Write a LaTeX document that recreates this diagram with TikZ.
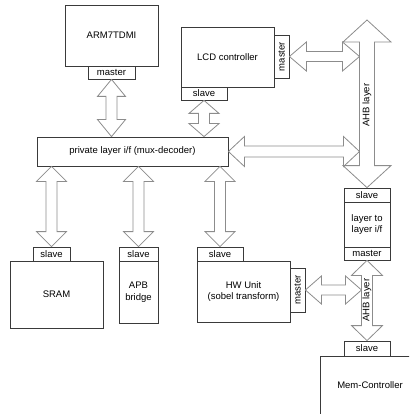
\documentclass[tikz,border=0pt]{standalone}
\usepackage{fontspec}
\setmainfont{Liberation Sans}
\usetikzlibrary{calc}
\definecolor{boxline}{HTML}{3A3A3A}
\definecolor{arrline}{HTML}{8C8C8C}

% Block arrow with a head at both ends.
% #1 = first tip, #2 = second tip, #3 = head half width,
% #4 = shaft half width, #5 = head length
\newcommand{\dblarrow}[5]{%
  \coordinate (da1) at (#1);
  \coordinate (da2) at (#2);
  \draw[fatarrow]
    (da1)
    -- ($(da1)!#5!(da2)!#3!90:(da2)$)
    -- ($(da1)!#5!(da2)!#4!90:(da2)$)
    -- ($(da2)!#5!(da1)!#4!-90:(da1)$)
    -- ($(da2)!#5!(da1)!#3!-90:(da1)$)
    -- (da2)
    -- ($(da2)!#5!(da1)!#3!90:(da1)$)
    -- ($(da2)!#5!(da1)!#4!90:(da1)$)
    -- ($(da1)!#5!(da2)!#4!-90:(da2)$)
    -- ($(da1)!#5!(da2)!#3!-90:(da2)$)
    -- cycle;}

\tikzset{
  box/.style={draw=boxline, fill=white, line width=0.8pt, inner sep=0pt,
    align=center, font=\fontsize{9.5}{11.5}\selectfont},
  fatarrow/.style={draw=arrline, fill=white, line width=0.8pt, line join=miter},
  vlabel/.style={inner sep=0pt, rotate=90, font=\fontsize{9.5}{11}\selectfont},
}

\begin{document}
\begin{tikzpicture}[x=1pt, y=-1pt]
\useasboundingbox (0,0) rectangle (409,414);
\clip (0,0) rectangle (409,414);

% processor
\node[box, minimum width=93pt, minimum height=61pt] (arm) at (111.5,35.5) {ARM7TDMI};
\node[box, minimum width=47pt, minimum height=13pt] (armM) at (111.5,72.5) {master};

% LCD controller
\node[box, minimum width=93pt, minimum height=60pt] (lcd) at (227.5,57) {LCD controller};
\node[box, minimum width=46pt, minimum height=13pt] (lcdS) at (204,93.5) {slave};
\node[box, minimum width=15pt, minimum height=43pt] (lcdM) at (281.5,56.5) {};
\node[vlabel] (lcdMt) at (lcdM) {master};

% private layer
\node[box, minimum width=191pt, minimum height=29pt] (priv) at (132.5,151.5) {private layer i/f (mux-decoder)};

% slaves on the private layer
\node[box, minimum width=37pt, minimum height=14pt] (sramS) at (51.5,254) {slave};
\node[box, minimum width=93pt, minimum height=67pt] (sram) at (56.5,294.5) {SRAM};
\node[box, minimum width=39pt, minimum height=14pt] (apbS) at (138.5,254) {slave};
\node[box, minimum width=39pt, minimum height=62pt] (apb) at (138.5,292) {APB\\bridge};
\node[box, minimum width=46pt, minimum height=14pt] (hwS) at (220,254) {slave};
\node[box, minimum width=93pt, minimum height=61pt] (hw) at (243.5,291.5) {HW Unit\\(sobel transform)};
\node[box, minimum width=15pt, minimum height=44pt] (hwM) at (297.5,290) {};
\node[vlabel] (hwMt) at (hwM) {master};

% layer to layer interface
\node[box, minimum width=46pt, minimum height=14pt] (l2lS) at (367,195) {slave};
\node[box, minimum width=46pt, minimum height=45pt] (l2l) at (367,224.5) {layer to\\layer i/f};
\node[box, minimum width=46pt, minimum height=13pt] (l2lM) at (367,253.5) {master};

% memory controller
\node[box, minimum width=46pt, minimum height=15pt] (memS) at (367,348.5) {slave};
\node[box, anchor=north west, minimum width=110pt, minimum height=84pt] (mem) at (320,356) {};
\node[font=\fontsize{9.5}{11}\selectfont, inner sep=0pt] (memt) at (370,385) {Mem-Controller};

% AHB layers
\coordinate (ahbTop) at (367,20);
\coordinate (ahbL) at ($(l2lS.north)+(-7.5,0)$);
\coordinate (ahbL2) at ($(l2lM.south)+(-5.5,0)$);

\dblarrow{lcdM.east}{lcdM.east -| ahbL}{14.5pt}{5pt}{17pt}
\dblarrow{priv.east}{priv.east -| ahbL}{15pt}{5.5pt}{16pt}
\dblarrow{hwM.east}{hwM.east -| ahbL2}{14pt}{5pt}{16pt}

\dblarrow{ahbTop}{l2lS.north}{24pt}{7.5pt}{22pt}
\node[vlabel] (ahb1) at (367,105) {AHB layer};
\dblarrow{l2lM.south}{memS.north}{15.5pt}{5.5pt}{15pt}
\node[vlabel] (ahb2) at (367,300) {AHB layer};

% private layer connections
\dblarrow{armM.south}{armM.south |- priv.north}{14pt}{5.5pt}{17pt}
\dblarrow{lcdS.south}{lcdS.south |- priv.north}{15pt}{5.5pt}{13pt}
\dblarrow{sramS.north |- priv.south}{sramS.north}{15pt}{5.5pt}{15pt}
\dblarrow{apbS.north |- priv.south}{apbS.north}{15pt}{5.5pt}{15pt}
\dblarrow{hwS.north |- priv.south}{hwS.north}{15pt}{5.5pt}{15pt}
\end{tikzpicture}
\end{document}
